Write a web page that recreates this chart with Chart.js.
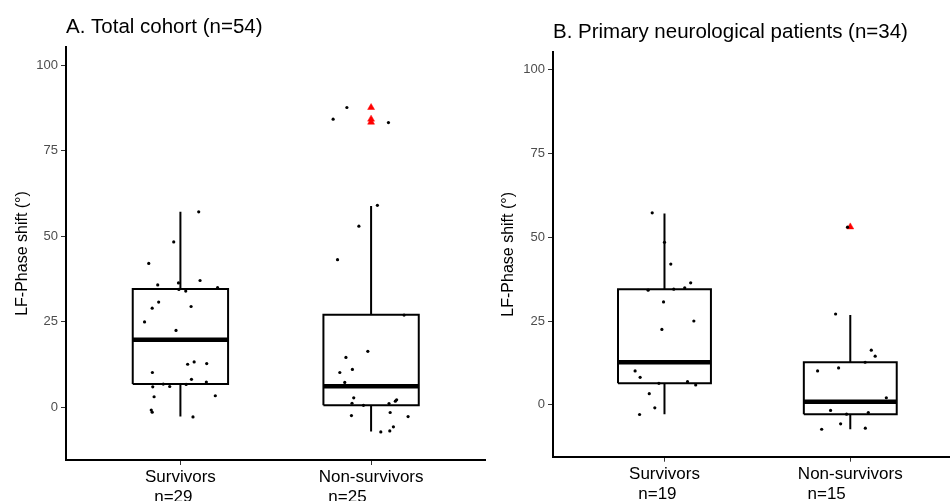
<!DOCTYPE html>
<html>
<head>
<meta charset="utf-8">
<script src="https://cdn.jsdelivr.net/npm/chart.js@4.4.1/dist/chart.umd.min.js"></script>
<style>
  html, body { margin: 0; padding: 0; background: #fff; overflow: hidden; width: 950px; height: 501px; }
  .painel { position: absolute; top: 0; }
  #painelA { left: 0; }
  #painelB { left: 480px; }
</style>
</head>
<body>
<div class="painel" id="painelA"><canvas id="chartA" width="490" height="501"></canvas></div>
<div class="painel" id="painelB"><canvas id="chartB" width="474" height="501"></canvas></div>
<script>
const groups = ['Survivors', 'Non-survivors'];
const countsA = ['n=29', 'n=25'];
const countsB = ['n=19', 'n=15'];
const yTicks = [0, 25, 50, 75, 100];

// A. Total cohort - boxplot stats (Survivors, Non-survivors)
const aLower  = [-2.8, -7.2];
const aQ1     = [6.7, 0.5];
const aMedian = [19.7, 6.1];
const aQ3     = [34.5, 27.0];
const aUpper  = [57.1, 58.8];
const aOutliers = [87.6, 84.2, 83.3];   // Non-survivors

// A. raw points + jitter offsets
const aSurvivors = [57.1, 48.3, 42.0, 35.7, 36.3, 37.0, 33.9, 34.9, 30.7, 28.9, 29.4, 24.9, 22.4, 12.5, 13.2,
                    12.7, 10.1, 8.1, 7.3, 5.9, 6.0, 3.0, 3.3, -0.9, -1.5, -2.9, 34.4, 6.6, 6.7];
const aSurvivorsJit = [0.096, -0.035, -0.166, -0.119, -0.01, 0.103, 0.028, 0.195, -0.114, -0.148, 0.056, -0.188, -0.023, 0.038, 0.072,
                       0.138, -0.147, 0.058, 0.136, -0.145, -0.056, -0.138, 0.183, -0.153, -0.148, 0.066, -0.008, 0.03, -0.09];
const aNonSurv = [87.6, 84.2, 83.2, 59.0, 52.9, 43.1, 26.9, 16.3, 14.5, 11.0, 10.1, 7.2, 2.7, 1.1, 2.1,
                  1.7, 1.0, -2.5, -1.6, -2.8, -5.8, -7.3, -7.0, 6.1, 0.5];
const aNonSurvJit = [-0.127, -0.199, 0.091, 0.033, -0.064, -0.176, 0.173, -0.017, -0.132, -0.098, -0.164, -0.138, -0.091, -0.1, 0.134,
                     0.127, 0.094, -0.103, 0.1, 0.194, 0.117, 0.051, 0.098, 0.06, -0.04];

// B. Primary neurological patients - boxplot stats
const bLower  = [-2.8, -7.3];
const bQ1     = [6.4, -2.8];
const bMedian = [12.7, 0.9];
const bQ3     = [34.5, 12.7];
const bUpper  = [57.1, 26.8];
const bOutliers = [53.1];   // Non-survivors

const bSurvivors = [57.3, 42.0, 36.4, 34.9, 34.2, 30.7, 25.0, 22.5, 10.1, 8.2, 6.9, 5.9, 3.3, -0.9, -2.9, 48.5, 12.7, 34.5, 6.4];
const bSurvivorsJit = [-0.066, 0.034, 0.141, 0.109, -0.088, -0.005, 0.158, -0.014, -0.158, -0.131, 0.124, 0.168, -0.082, -0.052, -0.134,
                       0.0, 0.02, 0.05, -0.03];
const bNonSurv = [53.0, 27.1, 16.3, 14.5, 10.1, 11.0, 2.1, -1.7, -2.3, -7.3, -5.7, -7.0, 0.9, -2.8, 12.7];
const bNonSurvJit = [-0.015, -0.079, 0.113, 0.134, -0.176, -0.063, 0.194, -0.106, 0.097, -0.154, -0.052, 0.081, 0.05, -0.02, 0.08];

Chart.defaults.font.family = "'Liberation Sans', Arial, sans-serif";
Chart.defaults.animation = false;

const boxHalf = 0.25;

function linha(data, w) {
    return {
        data, showLine: true, borderColor: '#000', borderWidth: w, pointRadius: 0,
        fill: false, tension: 0, borderJoinStyle: 'miter', borderCapStyle: 'butt', order: 2
    };
}

function caixas(lower, q1, median, q3, upper) {
    const ds = [];
    groups.forEach((g, i) => {
        const x = i + 1, l = x - boxHalf, r = x + boxHalf;
        ds.push(linha([{x: l, y: q1[i]}, {x: r, y: q1[i]}, {x: r, y: q3[i]}, {x: l, y: q3[i]}, {x: l, y: q1[i]}], 2));
        ds.push(linha([{x: l, y: median[i]}, {x: r, y: median[i]}], 4.5));
        ds.push(linha([{x, y: q3[i]}, {x, y: upper[i]}], 2));
        ds.push(linha([{x, y: q1[i]}, {x, y: lower[i]}], 2));
    });
    return ds;
}

function pontos(vals, jit, idx) {
    return {
        data: vals.map((v, k) => ({x: idx + 1 + jit[k], y: v})),
        showLine: false, pointRadius: 1.6, pointBorderWidth: 0,
        backgroundColor: '#000', borderColor: '#000', order: 0
    };
}

function outliers(vals, idx) {
    return {
        data: vals.map(v => ({x: idx + 1, y: v})),
        showLine: false, pointStyle: 'triangle', pointRadius: 4, pointBorderWidth: 0.5,
        backgroundColor: '#FF0000', borderColor: '#FF0000', order: 1
    };
}

function criarPainel(id, cfg) {
    const datasets = [
        ...caixas(cfg.lower, cfg.q1, cfg.median, cfg.q3, cfg.upper),
        outliers(cfg.outliers, 1),
        pontos(cfg.surv, cfg.survJit, 0),
        pontos(cfg.non, cfg.nonJit, 1)
    ];
    return new Chart(document.getElementById(id), {
        type: 'scatter',
        data: { datasets },
        options: {
            responsive: false,
            layout: { padding: { left: 0, right: cfg.padRight, top: 0, bottom: 0 } },
            plugins: {
                legend: { display: false },
                tooltip: { enabled: false },
                title: {
                    display: true, text: cfg.title, align: 'start', fullSize: false,
                    color: '#000', font: { size: 20.5, weight: 'normal' },
                    padding: { top: cfg.titleTop, bottom: cfg.titleBottom }
                }
            },
            scales: {
                x: {
                    type: 'linear', min: 0.4, max: cfg.xMax,
                    afterBuildTicks: s => { s.ticks = [{value: 1}, {value: 2}]; },
                    afterFit: s => { s.height = cfg.xHeight; },
                    grid: { drawOnChartArea: false, drawTicks: true, tickLength: 5, color: '#333', lineWidth: 1 },
                    border: { display: true, color: '#000', width: 2 },
                    ticks: {
                        color: '#000', font: { size: 17, lineHeight: 1.15 }, padding: 3,
                        autoSkip: false, maxRotation: 0,
                        callback: v => [groups[v - 1], cfg.counts[v - 1] + (v === 1 ? '   ' : '          ')]
                    }
                },
                y: {
                    min: -15.5, max: 105.3,
                    afterBuildTicks: s => { s.ticks = yTicks.map(v => ({value: v})); },
                    afterFit: s => { s.width = cfg.yWidth; },
                    grid: { drawOnChartArea: false, drawTicks: true, tickLength: 5, color: '#333', lineWidth: 1 },
                    border: { display: true, color: '#000', width: 2 },
                    ticks: { color: '#4D4D4D', font: { size: 13 }, padding: 3 },
                    title: {
                        display: true, text: 'LF-Phase shift (°)', color: '#000',
                        font: { size: 16 }, padding: { top: cfg.yTitlePad, bottom: 0 }
                    }
                }
            }
        }
    });
}

criarPainel('chartA', {
    title: 'A. Total cohort (n=54)', counts: countsA,
    lower: aLower, q1: aQ1, median: aMedian, q3: aQ3, upper: aUpper, outliers: aOutliers,
    surv: aSurvivors, survJit: aSurvivorsJit, non: aNonSurv, nonJit: aNonSurvJit,
    xMax: 2.6, padRight: 4, yWidth: 66, xHeight: 41, titleTop: 15.5, titleBottom: 6.9, yTitlePad: 12.9
});

criarPainel('chartB', {
    title: 'B. Primary neurological patients (n=34)', counts: countsB,
    lower: bLower, q1: bQ1, median: bMedian, q3: bQ3, upper: bUpper, outliers: bOutliers,
    surv: bSurvivors, survJit: bSurvivorsJit, non: bNonSurv, nonJit: bNonSurvJit,
    xMax: 2.534, padRight: 0, yWidth: 73, xHeight: 44.3, titleTop: 20.2, titleBottom: 7.2, yTitlePad: 19.4
});
</script>
</body>
</html>
